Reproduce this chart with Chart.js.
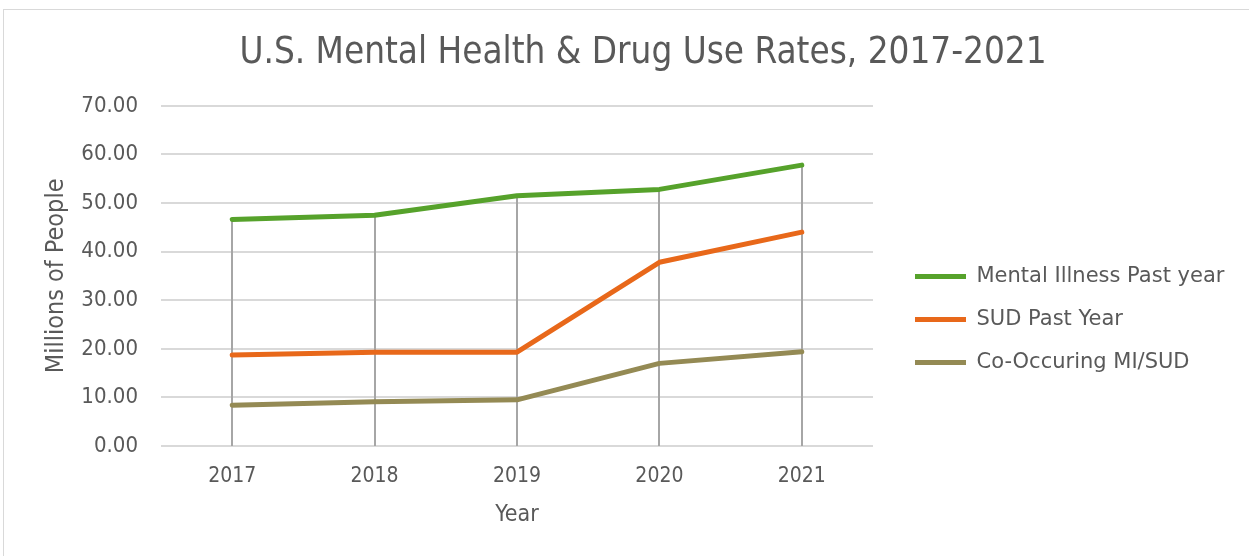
<!DOCTYPE html>
<html>
<head>
<meta charset="utf-8">
<script src="https://cdn.jsdelivr.net/npm/chart.js@4/dist/chart.umd.min.js"></script>
<style>
  body { margin: 0; background: #fff; overflow: hidden; }
  #frame { position: absolute; left: 3px; top: 9px; width: 1300px; height: 600px; border: 1px solid #d9d9d9; }
  #wrap { position: absolute; left: 0; top: 0; width: 1249px; height: 556px; }
</style>
</head>
<body>
<div id="frame"></div>
<div id="wrap"><canvas id="chart"></canvas></div>
<script>
const years = ["2017", "2018", "2019", "2020", "2021"];
const mentalIllness = [46.6, 47.5, 51.5, 52.8, 57.8];
const sudPastYear = [18.7, 19.3, 19.3, 37.8, 44.0];
const coOccurring = [8.4, 9.1, 9.5, 17.0, 19.4];

const textColor = "#595959";
const narrow = "'DejaVu Sans Condensed', 'DejaVu Sans', sans-serif";
const wide = "'DejaVu Sans', sans-serif";

// gray drop lines from the highest point down to the x axis
const dropLines = {
  id: "dropLines",
  beforeDatasetsDraw(chart) {
    const ctx = chart.ctx;
    const x = chart.scales.x, y = chart.scales.y;
    ctx.save();
    ctx.strokeStyle = "#a6a6a6";
    ctx.lineWidth = 2;
    years.forEach((yr, i) => {
      const top = Math.max(...chart.data.datasets.map(d => d.data[i]));
      const px = Math.round(x.getPixelForValue(i));
      ctx.beginPath();
      ctx.moveTo(px, y.getPixelForValue(top));
      ctx.lineTo(px, y.bottom);
      ctx.stroke();
    });
    ctx.restore();
  }
};

// fixed legend width, then move the legend block to where Excel put it
const legendPlace = {
  id: "legendPlace",
  beforeLayout(chart) {
    const lg = chart.legend;
    if (lg && !lg._fixed) {
      const fit = lg.fit;
      lg.fit = function () { fit.call(this); this.width = 376; };
      lg._fixed = true;
    }
  },
  afterLayout(chart) {
    const lg = chart.legend;
    lg.left += 20; lg.right += 20;
    lg.top += 48; lg.bottom += 48;
  }
};

new Chart(document.getElementById("chart"), {
  type: "line",
  data: {
    labels: years,
    datasets: [
      { label: "Mental Illness Past year", data: mentalIllness, borderColor: "#56a22b", backgroundColor: "#56a22b" },
      { label: "SUD Past Year", data: sudPastYear, borderColor: "#e8681a", backgroundColor: "#e8681a" },
      { label: "Co-Occuring MI/SUD", data: coOccurring, borderColor: "#948a54", backgroundColor: "#948a54" }
    ]
  },
  options: {
    responsive: true,
    maintainAspectRatio: false,
    animation: false,
    datasets: {
      line: { borderWidth: 5, pointRadius: 0, borderCapStyle: "round", borderJoinStyle: "round", tension: 0 }
    },
    layout: { padding: { top: 10, left: 37, right: 0, bottom: 23 } },
    plugins: {
      title: {
        display: true,
        text: "U.S. Mental Health & Drug Use Rates, 2017-2021",
        color: textColor,
        font: { family: narrow, size: 36.5, weight: "normal" },
        padding: { top: 22, bottom: 30 }
      },
      legend: {
        position: "right",
        labels: {
          usePointStyle: true,
          pointStyle: "line",
          pointStyleWidth: 51,
          padding: 22,
          color: textColor,
          font: { family: wide, size: 21 }
        }
      },
      tooltip: { enabled: false }
    },
    scales: {
      x: {
        offset: true,
        grid: { display: false, drawTicks: false },
        border: { display: false },
        afterFit: s => { s.height = 87; },
        ticks: { color: textColor, font: { family: narrow, size: 21 }, padding: 18, maxRotation: 0 },
        title: { display: true, text: "Year", color: textColor, font: { family: narrow, size: 23 } }
      },
      y: {
        min: 0,
        max: 70,
        grid: { color: "#d9d9d9", lineWidth: 2, drawTicks: false },
        border: { display: false },
        afterFit: s => { s.width = 124; },
        ticks: {
          stepSize: 10,
          color: textColor,
          font: { family: narrow, size: 22 },
          padding: 23,
          callback: v => v.toFixed(2)
        },
        title: { display: true, text: "Millions of People", color: textColor, font: { family: narrow, size: 25 } }
      }
    }
  },
  plugins: [dropLines, legendPlace]
});
</script>
</body>
</html>
